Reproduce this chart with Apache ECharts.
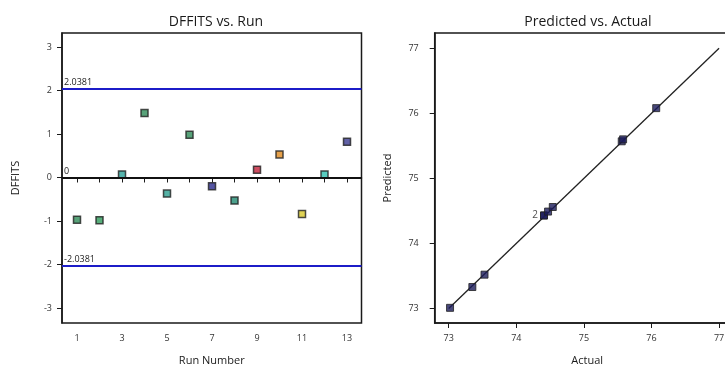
<!DOCTYPE html>
<html>
<head>
<meta charset="utf-8">
<script src="https://cdn.jsdelivr.net/npm/echarts@6/dist/echarts.min.js"></script>
<style>
  html, body { margin: 0; padding: 0; background: #fff; }
  #chart { width: 725px; height: 367px; }
</style>
</head>
<body>
<div id="chart"></div>
<script>
// DFFITS per run
const runNumbers = [1, 2, 3, 4, 5, 6, 7, 8, 9, 10, 11, 12, 13];
const dffits = [-0.97, -0.98, 0.07, 1.48, -0.37, 0.98, -0.20, -0.53, 0.18, 0.53, -0.84, 0.07, 0.82];
const runColors = ['#2e8b57', '#2e9a5a', '#2aa198', '#2e8b57', '#2a9d8f', '#2e8b57', '#2b2b8c',
                   '#1f8a70', '#c0203a', '#e08a1e', '#d8c82a', '#30c0b0', '#3a3a90'];
const dffitsLimit = 2.0381;

// Predicted vs. actual
const actual    = [73.02, 73.35, 73.53, 74.41, 74.41, 74.47, 74.54, 75.56, 75.58, 76.07];
const predicted = [73.01, 73.33, 73.52, 74.43, 74.43, 74.49, 74.56, 75.57, 75.60, 76.08];
const pointTags = ['', '', '', '2', '', '', '', '', '', ''];
const fitLine = [[73, 73], [77, 77]];

// Tick labels
const dffitsTicks = [-3, -2, -1, 0, 1, 2, 3];
const runTicks = [1, 2, 3, 4, 5, 6, 7, 8, 9, 10, 11, 12, 13];
const runLabels = [1, 3, 5, 7, 9, 11, 13];
const responseTicks = [73, 74, 75, 76, 77];

const FONT = '"Open Sans", "DejaVu Sans", sans-serif';
const ink = '#1a1a1a';

const tickLabel = {
  fontFamily: FONT, fontSize: 9, color: '#333'
};

// Reference line with its value written at the left end
function refLine(value, color) {
  return {
    yAxis: value,
    lineStyle: { color: color, width: 2, type: 'solid' },
    label: { formatter: String(value) }
  };
}

const chart = echarts.init(document.getElementById('chart'), null, { renderer: 'canvas' });

chart.setOption({
  animation: false,
  backgroundColor: '#fff',
  title: [
    { text: 'DFFITS vs. Run', left: 211, top: 10, textAlign: 'center',
      textStyle: { fontFamily: FONT, fontSize: 14, fontWeight: 'normal', color: ink } },
    { text: 'Predicted vs. Actual', left: 583, top: 10, textAlign: 'center',
      textStyle: { fontFamily: FONT, fontSize: 14, fontWeight: 'normal', color: ink } }
  ],
  grid: [
    { left: 62, top: 33, width: 299.5, height: 290, show: true, containLabel: false,
      outerBoundsMode: 'none',
      borderColor: ink, borderWidth: 1.5, backgroundColor: 'transparent' },
    { left: 434.7, top: 33, width: 305, height: 290, show: true, containLabel: false,
      outerBoundsMode: 'none',
      borderColor: ink, borderWidth: 1.5, backgroundColor: 'transparent' }
  ],
  xAxis: [
    { gridIndex: 0, type: 'value', min: 0.333, max: 13.644,
      name: 'Run Number', nameLocation: 'middle', nameGap: 32,
      nameTextStyle: { fontFamily: FONT, fontSize: 11, color: ink },
      axisLine: { show: true, lineStyle: { color: ink, width: 1.5 } },
      axisTick: { show: true, length: 5, customValues: runTicks, lineStyle: { color: ink } },
      axisLabel: Object.assign({ margin: 11, customValues: runLabels }, tickLabel),
      splitLine: { show: false } },
    { gridIndex: 1, type: 'value', min: 72.793, max: 77.305,
      name: 'Actual', nameLocation: 'middle', nameGap: 32,
      nameTextStyle: { fontFamily: FONT, fontSize: 11, color: ink },
      axisLine: { show: true, lineStyle: { color: ink, width: 1.5 } },
      axisTick: { show: true, length: 5, customValues: responseTicks, lineStyle: { color: ink } },
      axisLabel: Object.assign({ margin: 11, customValues: responseTicks }, tickLabel),
      splitLine: { show: false } }
  ],
  yAxis: [
    { gridIndex: 0, type: 'value', min: -3.345, max: 3.322,
      name: 'DFFITS', nameLocation: 'middle', nameGap: 41,
      nameTextStyle: { fontFamily: FONT, fontSize: 11, color: ink },
      axisLine: { show: true, lineStyle: { color: ink, width: 1.5 } },
      axisTick: { show: true, length: 5, customValues: dffitsTicks, lineStyle: { color: ink } },
      axisLabel: Object.assign({ margin: 10, customValues: dffitsTicks, padding: [0, 0, 10, 0] }, tickLabel),
      splitLine: { show: false } },
    { gridIndex: 1, type: 'value', min: 72.777, max: 77.235,
      name: 'Predicted', nameLocation: 'middle', nameGap: 41,
      nameTextStyle: { fontFamily: FONT, fontSize: 11, color: ink },
      axisLine: { show: true, lineStyle: { color: ink, width: 1.5 } },
      axisTick: { show: true, length: 5, customValues: responseTicks, lineStyle: { color: ink } },
      axisLabel: Object.assign({ margin: 16, customValues: responseTicks, padding: [0, 0, 12, 0] }, tickLabel),
      splitLine: { show: false } }
  ],
  series: [
    {
      type: 'scatter', xAxisIndex: 0, yAxisIndex: 0,
      symbol: 'rect', symbolSize: 7,
      data: runNumbers.map((r, i) => ({
        value: [r, dffits[i]],
        itemStyle: { color: runColors[i], borderColor: '#202020', borderWidth: 1.5 }
      })),
      markLine: {
        silent: true, symbol: 'none', precision: 4,
        label: { show: true, position: 'insideStartTop', distance: [2, 2],
                 fontFamily: FONT, fontSize: 9, color: '#222' },
        data: [
          refLine(dffitsLimit, '#1c1cc8'),
          refLine(-dffitsLimit, '#1c1cc8'),
          refLine(0, '#111')
        ]
      },
      z: 3
    },
    {
      type: 'line', xAxisIndex: 1, yAxisIndex: 1,
      data: fitLine, symbol: 'none', silent: true,
      lineStyle: { color: '#222', width: 1.3 }, z: 2
    },
    {
      type: 'scatter', xAxisIndex: 1, yAxisIndex: 1,
      symbol: 'rect', symbolSize: 7,
      itemStyle: { color: '#1c1c5a', borderColor: '#202020', borderWidth: 1 },
      label: { show: true, position: 'left', distance: 2,
               fontFamily: FONT, fontSize: 10, color: '#222',
               formatter: p => pointTags[p.dataIndex] },
      data: actual.map((a, i) => [a, predicted[i]]),
      z: 3
    }
  ]
});
</script>
</body>
</html>
